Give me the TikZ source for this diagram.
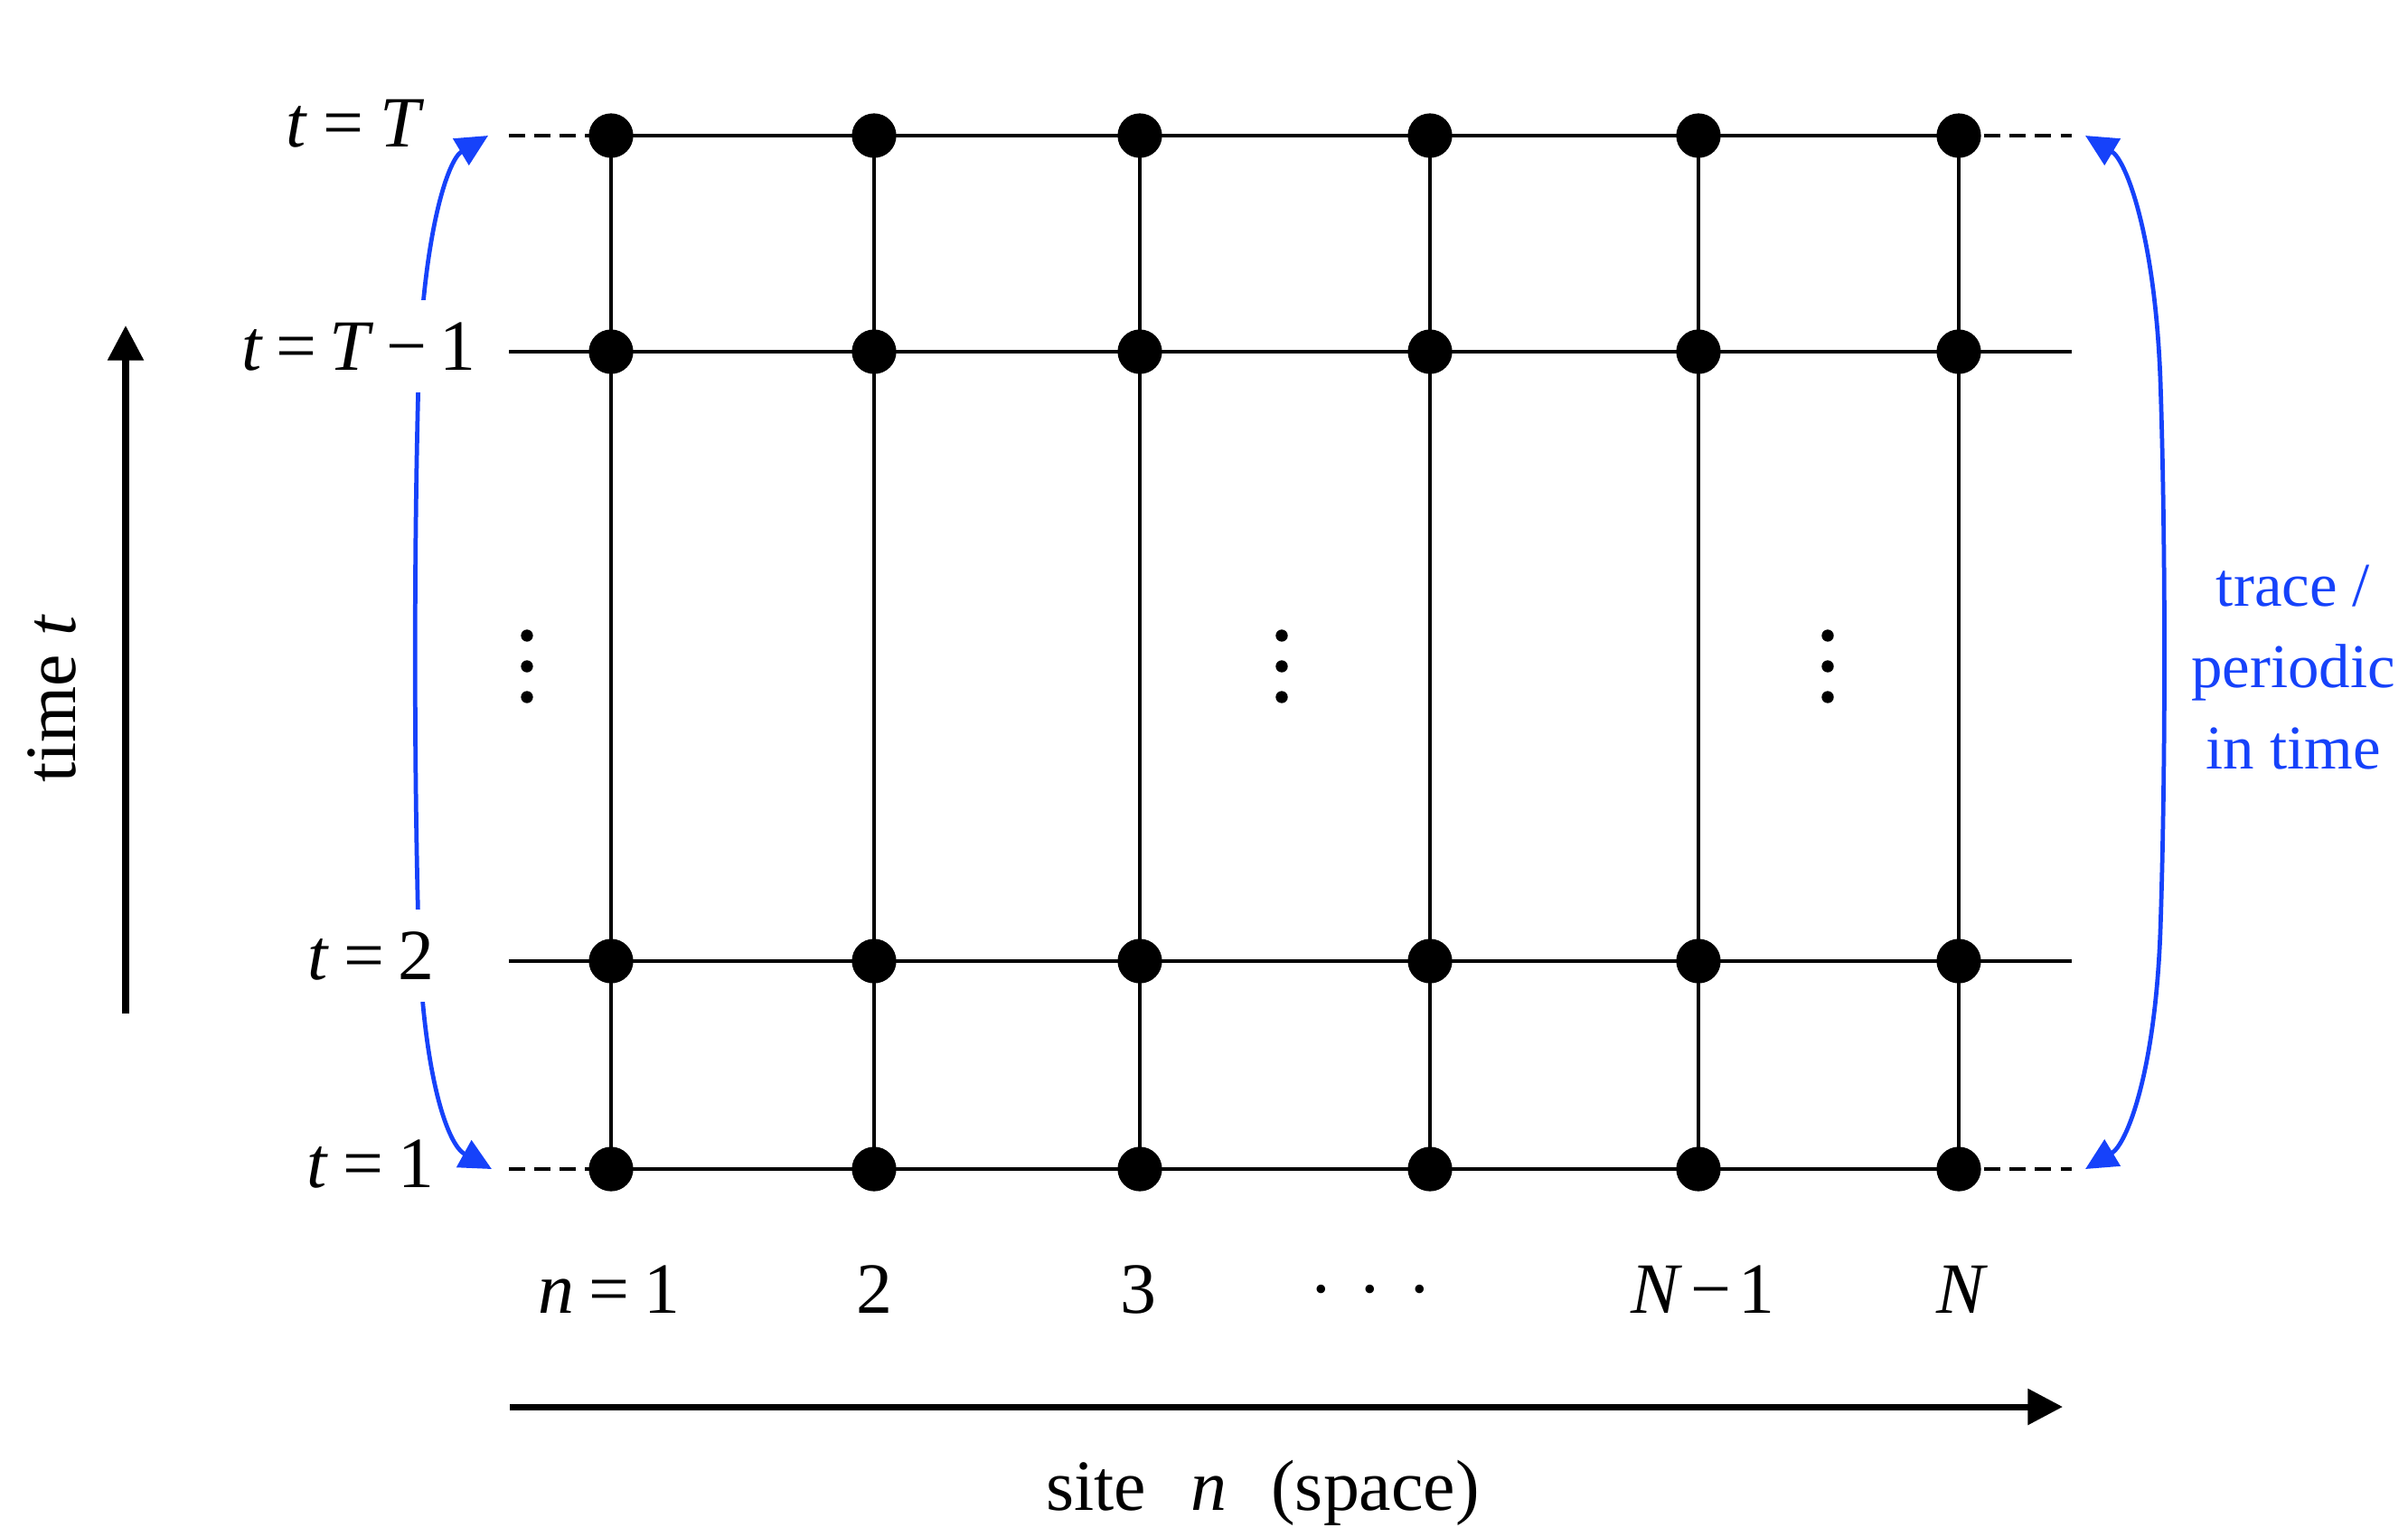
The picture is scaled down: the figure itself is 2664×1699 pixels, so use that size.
\documentclass[tikz,border=0pt]{standalone}
\usepackage{fontspec}
\setmainfont{Liberation Serif}
\usetikzlibrary{arrows.meta}
\definecolor{tblue}{RGB}{22,66,250}
\begin{document}
\begin{tikzpicture}[x=0.01cm,y=-0.01cm,
  gridline/.style={line width=1.4pt},
  dashline/.style={line width=1.4pt, dash pattern=on 5pt off 3pt},
  dot/.style={circle,fill=black,inner sep=0pt,minimum size=14pt},
  vdot/.style={circle,fill=black,inner sep=0pt,minimum size=3.8pt},
  lab/.style={font=\fontsize{22.7}{27}\selectfont, inner sep=0pt},
  maskedlab/.style={lab, fill=white, inner ysep=7pt, inner xsep=1pt},
  bluetxt/.style={font=\fontsize{19.6}{25.5}\selectfont, text=tblue, align=center, inner sep=0pt},
  axisarrow/.style={line width=2pt,-{Triangle[length=11pt,width=11pt]}},
  loopline/.style={tblue,line width=1.35pt,{Triangle[length=10pt,width=9.5pt]}-{Triangle[length=10pt,width=9.5pt]}}]

\useasboundingbox (0,0) rectangle (2664,1699);

% grid points
\foreach \cc/\xx in {1/676,2/967,3/1261,4/1582,5/1879,6/2167}{
  \foreach \rr/\yy in {1/1293,2/1063,3/389,4/150}{
    \coordinate (p\cc-\rr) at (\xx,\yy);
  }
}
% free ends of the horizontal lines
\foreach \rr/\yy in {1/1293,2/1063,3/389,4/150}{
  \coordinate (L\rr) at (563,\yy);
  \coordinate (R\rr) at (2292,\yy);
}

% horizontal lines
\draw[gridline] (L2) -- (R2);
\draw[gridline] (L3) -- (R3);
\foreach \rr in {1,4}{
  \draw[dashline] (L\rr) -- (p1-\rr);
  \draw[gridline] (p1-\rr) -- (p6-\rr);
  \draw[dashline] (p6-\rr) -- (R\rr);
}
% vertical lines
\foreach \cc in {1,...,6}{
  \draw[gridline] (p\cc-4) -- (p\cc-1);
}
% dots
\foreach \cc in {1,...,6}{
  \foreach \rr in {1,...,4}{
    \node[dot] (d\cc-\rr) at (p\cc-\rr) {};
  }
}
% vertical ellipses
\foreach \k/\xx in {a/583,b/1418,c/2022}{
  \node[vdot] (v\k1) at (\xx,703) {};
  \node[vdot] (v\k2) at (\xx,737) {};
  \node[vdot] (v\k3) at (\xx,771) {};
}

% blue periodic connectors
\coordinate (lt) at (540,150);
\coordinate (lb) at (544,1293);
\coordinate (rt) at (2307,150);
\coordinate (rb) at (2307,1293);
\draw[loopline] (lt) .. controls (495,177) and (468,260) .. (463,420)
  .. controls (458,600) and (458,850) .. (463,1030)
  .. controls (468,1190) and (495,1266) .. (lb);
\draw[loopline] (rt) .. controls (2352,177) and (2384,260) .. (2390,420)
  .. controls (2396,600) and (2396,850) .. (2390,1030)
  .. controls (2384,1190) and (2352,1266) .. (rb);

% time labels
\node[lab, anchor=base east] (lT) at (470,162) {\textit{t}\kern5pt=\kern5pt\textit{T}};
\node[maskedlab, anchor=base east] (lT1) at (531,409) {\textit{t}\kern4pt=\kern4pt\textit{T}\kern4pt−\kern4pt1};
\node[maskedlab, anchor=base east] (l2) at (485,1083) {\textit{t}\kern4.5pt=\kern4.5pt2};
\node[lab, anchor=base east] (l1) at (481,1313) {\textit{t}\kern4.5pt=\kern4.5pt1};

% site labels
\node[lab, anchor=base] (n1) at (674,1452) {\textit{n}\kern4.5pt=\kern4.5pt1};
\node[lab, anchor=base] (n2) at (967,1452) {2};
\node[lab, anchor=base] (n3) at (1259,1452) {3};
\node[lab, anchor=base] (ndots) at (1516,1452) {·\kern8pt·\kern8pt·};
\node[lab, anchor=base] (nNm) at (1884,1452) {\textit{N}\kern2.5pt−\kern2.5pt1};
\node[lab, anchor=base] (nN) at (2171,1452) {\textit{N}};

% axes
\coordinate (ta0) at (139,1121);
\coordinate (ta1) at (139,360);
\draw[axisarrow] (ta0) -- (ta1);
\node[lab, rotate=90, anchor=base] (tlab) at (83,773) {time \textit{t}};

\coordinate (sa0) at (564,1556);
\coordinate (sa1) at (2282,1556);
\draw[axisarrow] (sa0) -- (sa1);
\node[lab, anchor=base] (slab) at (1397,1670) {site\kern14pt\textit{n}\kern14pt(space)};

% blue annotation
\node[bluetxt] (trace) at (2537,738) {trace /\\periodic\\in time};
\end{tikzpicture}
\end{document}
